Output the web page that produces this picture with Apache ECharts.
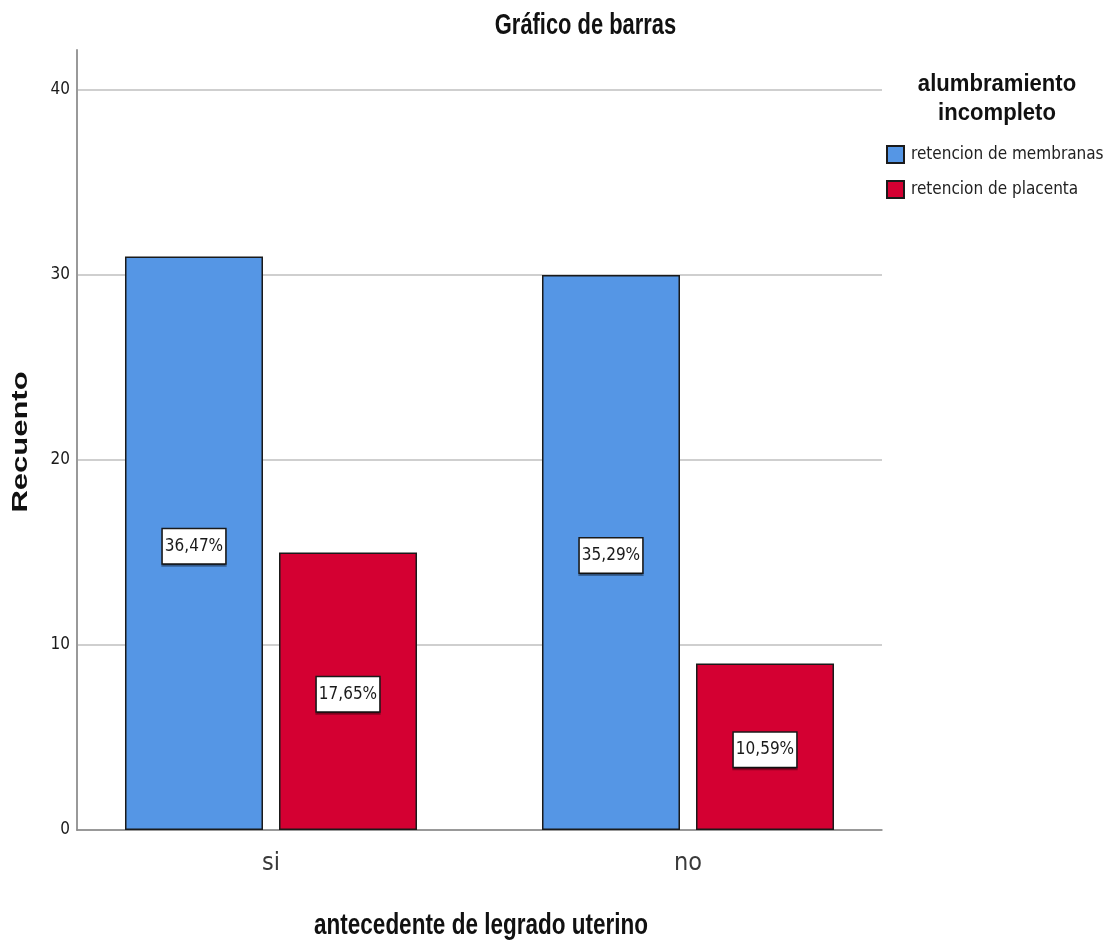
<!DOCTYPE html>
<html>
<head>
<meta charset="utf-8">
<script src="https://cdn.jsdelivr.net/npm/echarts@6/dist/echarts.min.js"></script>
<style>
html,body{margin:0;padding:0;background:#fff;}
#chart{width:1117px;height:942px;}
</style>
</head>
<body>
<div id="chart"></div>
<script>
const categories = ['si', 'no'];
const seriesNames = ['retencion de membranas', 'retencion de placenta'];
const membranas = [31, 30];
const placenta = [15, 9];
const yTicks = [0, 10, 20, 30, 40];

const chartTitle = 'Gráfico de barras';
const legendTitle = 'alumbramiento\nincompleto';
const xAxisTitle = 'antecedente de legrado uterino';
const yAxisTitle = 'Recuento';

const total = membranas.concat(placenta).reduce((a, b) => a + b, 0);
const pct = v => (v / total * 100).toFixed(2).replace('.', ',') + '%';

const COND = '"DejaVu Sans Condensed", "Liberation Sans Narrow", "Liberation Sans", Arial, sans-serif';
const SANS = '"Liberation Sans", Arial, sans-serif';

const chart = echarts.init(document.getElementById('chart'), null, {renderer: 'canvas'});

const labelStyle = {
  show: true,
  position: 'inside',
  offset: [0, 3],
  formatter: p => pct(p.value),
  fontFamily: COND,
  fontSize: 17,
  lineHeight: 19,
  color: '#1a1a1a',
  backgroundColor: '#ffffff',
  borderColor: '#1a1a1a',
  borderWidth: 1.5,
  padding: [8, 2, 7, 2],
  shadowColor: 'rgba(0,0,0,0.35)',
  shadowOffsetY: 2,
  shadowBlur: 0
};

const yMaxAll = 42.16;

const option = {
  backgroundColor: '#ffffff',
  animation: false,
  graphic: [
    {
      type: 'text', x: 585.5, y: 26, scaleX: 0.755,
      style: {text: chartTitle, textAlign: 'center', textVerticalAlign: 'middle',
        fontFamily: SANS, fontWeight: 'bold', fontSize: 29, fill: '#111'}
    },
    {
      type: 'text', x: 997, y: 99, scaleX: 0.92,
      style: {text: legendTitle, textAlign: 'center', textVerticalAlign: 'middle',
        fontFamily: SANS, fontWeight: 'bold', fontSize: 24, lineHeight: 29, fill: '#111'}
    },
    {
      type: 'text', x: 481, y: 926, scaleX: 0.75,
      style: {text: xAxisTitle, textAlign: 'center', textVerticalAlign: 'middle',
        fontFamily: SANS, fontWeight: 'bold', fontSize: 30, fill: '#111'}
    },
    {
      type: 'text', x: 21, y: 442, rotation: Math.PI / 2, scaleY: 0.72,
      style: {text: yAxisTitle, textAlign: 'center', textVerticalAlign: 'middle',
        fontFamily: SANS, fontWeight: 'bold', fontSize: 31, fill: '#111'}
    }
  ],
  legend: {
    orient: 'vertical',
    left: 881,
    top: 140,
    itemWidth: 17,
    itemHeight: 17,
    itemGap: 16,
    icon: 'rect',
    data: seriesNames,
    textStyle: {fontFamily: COND, fontSize: 17, color: '#222', padding: [0, 0, 0, 2]}
  },
  grid: [
    {left: 77, right: 235, top: 50, bottom: 112},
    {left: 77, right: 235, top: 90, bottom: 112},
    {left: 62.5, right: 220.5, top: 50, bottom: 112}
  ],
  xAxis: [
    {
      gridIndex: 0,
      type: 'category',
      data: categories,
      axisLine: {show: true, lineStyle: {color: '#888', width: 1.5}},
      axisTick: {show: false},
      axisLabel: {show: false},
      splitLine: {show: false}
    },
    {
      gridIndex: 1,
      type: 'category',
      data: categories,
      show: false
    },
    {
      gridIndex: 2,
      type: 'category',
      data: categories,
      axisLine: {show: false},
      axisTick: {show: false},
      axisLabel: {show: true, fontFamily: COND, fontSize: 25, color: '#3a3a3a', margin: 21}
    }
  ],
  yAxis: [
    {
      gridIndex: 0,
      type: 'value',
      min: 0,
      max: yMaxAll,
      interval: 10,
      axisLine: {show: true, lineStyle: {color: '#999', width: 2}},
      axisTick: {show: false},
      splitLine: {show: false},
      axisLabel: {
        fontFamily: COND, fontSize: 17, color: '#1a1a1a', margin: 7,
        formatter: v => (yTicks.indexOf(v) >= 0 ? String(v) : '')
      }
    },
    {
      gridIndex: 1,
      type: 'value',
      min: yTicks[0],
      max: yTicks[yTicks.length - 1],
      interval: 10,
      axisLine: {show: false},
      axisTick: {show: false},
      axisLabel: {show: false},
      splitLine: {show: true, lineStyle: {color: '#cfcfcf', width: 2}}
    },
    {
      gridIndex: 2,
      type: 'value',
      min: 0,
      max: yMaxAll,
      interval: 10,
      show: false,
      splitLine: {show: false}
    }
  ],
  series: [
    {
      name: seriesNames[0],
      type: 'bar',
      xAxisIndex: 2,
      yAxisIndex: 2,
      data: membranas,
      barWidth: 138,
      barGap: '11.6%',
      itemStyle: {color: '#5596e5', borderColor: '#1a1a1a', borderWidth: 1.5},
      label: labelStyle
    },
    {
      name: seriesNames[1],
      type: 'bar',
      xAxisIndex: 2,
      yAxisIndex: 2,
      data: placenta,
      barWidth: 138,
      barGap: '11.6%',
      itemStyle: {color: '#d40032', borderColor: '#1a1a1a', borderWidth: 1.5},
      label: labelStyle
    }
  ]
};

chart.setOption(option);
</script>
</body>
</html>
